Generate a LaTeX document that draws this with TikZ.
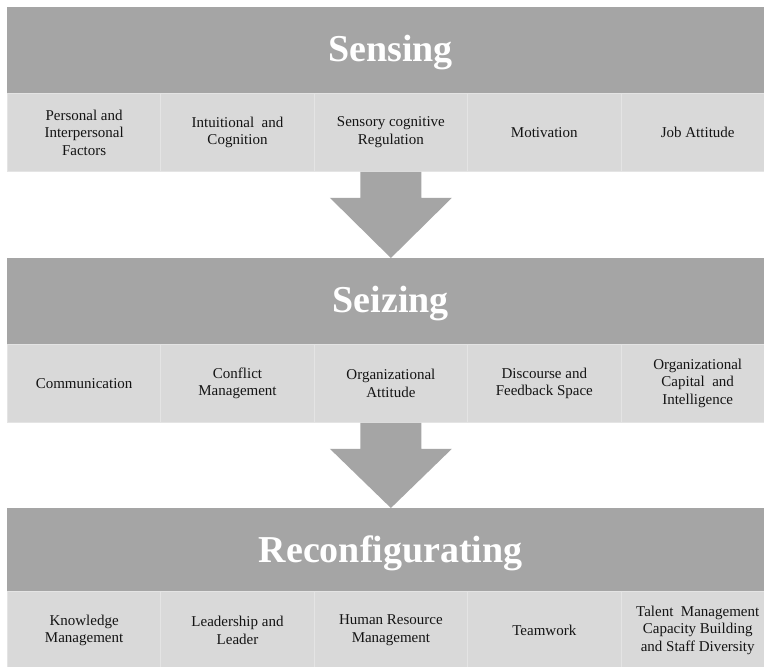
\documentclass[tikz,border=0pt]{standalone}
\usepackage{fontspec}
\setmainfont{Liberation Serif}
\usetikzlibrary{calc}
\definecolor{hdr}{HTML}{A5A5A5}
\definecolor{cellfill}{HTML}{D9D9D9}
\definecolor{sep}{HTML}{E4E4E4}
\tikzset{
  hdrbox/.style={fill=hdr, draw=none, inner sep=0pt, minimum width=767pt, minimum height=86pt,
    anchor=north west, text=white, text height=27pt, text depth=5pt, font=\fontsize{38}{40}\selectfont\bfseries},
  cellbox/.style={fill=cellfill, draw=sep, line width=0.8pt, inner sep=0pt, minimum width=153.4pt,
    minimum height=78pt, anchor=north west, align=center, text=black!92, font=\fontsize{15}{17.5}\selectfont},
  bigarrow/.style={fill=hdr, draw=none}
}
\begin{document}
\begin{tikzpicture}[x=1pt,y=-1pt]
\useasboundingbox (0,0) rectangle (764,667);
\clip (0,0) rectangle (764,667);
\fill[white] (0,0) rectangle (764,667);

% Sensing
\node[hdrbox] (sensing) at (7,7) {Sensing};
\foreach \t [count=\i from 0] in {{Personal and\\Interpersonal\\Factors},{Intuitional\ \ and\\Cognition},{Sensory cognitive\\Regulation},{Motivation},{Job Attitude}}
  \node[cellbox] (a\i) at ({7+\i*153.4},93) {\t};

% Seizing
\node[hdrbox] (seizing) at (7,258) {Seizing};
\foreach \t [count=\i from 0] in {{Communication},{Conflict\\Management},{Organizational\\Attitude},{Discourse and\\Feedback Space},{Organizational\\Capital\ \ and\\Intelligence}}
  \node[cellbox] (b\i) at ({7+\i*153.4},344) {\t};

% Reconfigurating
\node[hdrbox] (reconf) at (7,508) {Reconfigurating};
\foreach \t [count=\i from 0] in {{Knowledge\\Management},{Leadership and\\Leader},{Human Resource\\Management},{Teamwork},{Talent\ \ Management\\Capacity Building\\and Staff Diversity}}
  \node[cellbox] (c\i) at ({7+\i*153.4},591) {\t};

% Arrows
\fill[bigarrow] let \p1=(a2.south), \p2=(seizing.north) in
  (\x1-30.5pt,\y1) -- (\x1+30.5pt,\y1) -- (\x1+30.5pt,\y1-26pt) -- (\x1+61pt,\y1-26pt)
  -- (\x1,\y2) -- (\x1-61pt,\y1-26pt) -- (\x1-30.5pt,\y1-26pt) -- cycle;
\fill[bigarrow] let \p1=(b2.south), \p2=(reconf.north) in
  (\x1-30.5pt,\y1) -- (\x1+30.5pt,\y1) -- (\x1+30.5pt,\y1-26pt) -- (\x1+61pt,\y1-26pt)
  -- (\x1,\y2) -- (\x1-61pt,\y1-26pt) -- (\x1-30.5pt,\y1-26pt) -- cycle;
\end{tikzpicture}
\end{document}
